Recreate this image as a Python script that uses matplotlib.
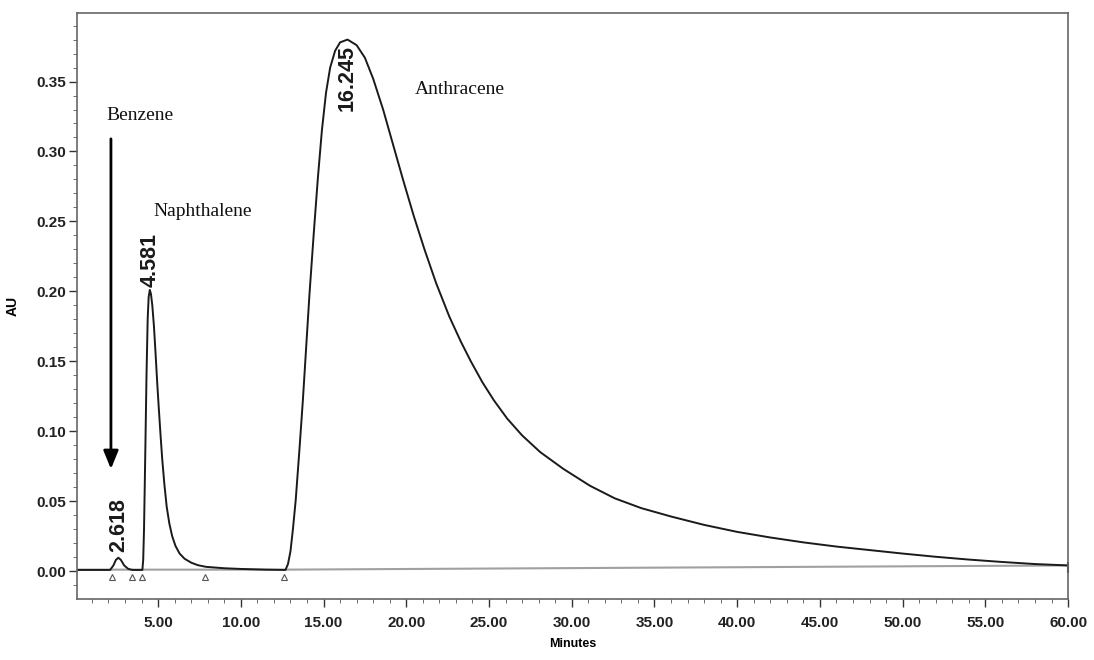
import numpy as np
import matplotlib.pyplot as plt

# chromatogram trace (minutes, AU)
minutes = [0.1, 1.0, 2.1, 2.3, 2.45, 2.6, 2.75, 2.95, 3.2, 3.45, 4.0,
           4.05, 4.10, 4.15, 4.22, 4.30, 4.37, 4.43, 4.50, 4.57, 4.65, 4.75,
           4.85, 4.95, 5.05, 5.15, 5.25, 5.38, 5.52, 5.68, 5.85, 6.05, 6.3,
           6.6, 7.0, 7.4, 7.9, 9.0, 10.0, 11.5, 12.7,
           12.85, 13.0, 13.15, 13.32, 13.55, 13.75, 13.95, 14.15, 14.4, 14.65,
           14.9, 15.15, 15.4, 15.7, 16.0, 16.45, 17.0, 17.5, 18.0, 18.6,
           19.2, 19.8, 20.45, 21.1, 21.8, 22.6, 23.3, 23.9, 24.6, 25.3,
           26.1, 27.0, 28.1, 29.5, 31.1, 32.6, 34.2, 36.0, 38.0, 40.0,
           42.0, 44.0, 46.0, 48.0, 50.0, 52.0, 54.0, 56.0, 58.0, 60.0]
au = [0.0008, 0.0008, 0.0008, 0.004, 0.008, 0.0095, 0.008, 0.004, 0.0015, 0.0008, 0.0008,
      0.0008, 0.008, 0.03, 0.08, 0.14, 0.180, 0.196, 0.201, 0.198, 0.190, 0.175,
      0.155, 0.134, 0.115, 0.097, 0.080, 0.062, 0.046, 0.034, 0.025, 0.018, 0.0125,
      0.0088, 0.006, 0.0042, 0.003, 0.002, 0.0015, 0.001, 0.0008,
      0.005, 0.014, 0.03, 0.051, 0.088, 0.122, 0.160, 0.198, 0.240, 0.280,
      0.315, 0.342, 0.360, 0.372, 0.378, 0.380, 0.376, 0.367, 0.352, 0.330,
      0.305, 0.280, 0.254, 0.230, 0.206, 0.182, 0.164, 0.150, 0.135, 0.122,
      0.109, 0.097, 0.085, 0.073, 0.061, 0.052, 0.045, 0.039, 0.033, 0.028,
      0.024, 0.0205, 0.0175, 0.015, 0.0125, 0.0102, 0.0082, 0.0065, 0.005, 0.004]

# integration baseline
base_t = [0.1, 12.6, 60.0]
base_au = [0.001, 0.001, 0.004]

# peak start / end marks
mark_t = [2.2, 3.45, 4.05, 7.85, 12.6]

peak_rt = ['2.618', '4.581', '16.245']
peak_pos = [(2.6, 0.0135), (4.5, 0.203), (16.4, 0.329)]

compounds = ['Benzene', 'Naphthalene', 'Anthracene']
compound_pos = [(1.9, 0.326), (4.7, 0.257), (20.5, 0.344)]

plt.rcParams['font.family'] = ['Liberation Sans', 'DejaVu Sans']

fig = plt.figure(figsize=(10.94, 6.6), dpi=100)
ax = fig.add_axes([0.0704, 0.0924, 0.9059, 0.8879])

ax.plot(base_t, base_au, color='#a0a0a0', lw=1.5, zorder=1)
ax.plot(minutes, au, color='#1a1a1a', lw=1.4, zorder=2)
ax.plot(mark_t, [-0.0042] * len(mark_t), linestyle='none', marker='^',
        ms=4, mfc='white', mec='#555555', mew=0.8, zorder=3)
ax.plot([60.0, 60.0], [-0.001, 0.006], color='#333333', lw=1.5, clip_on=False)

for lab, (x, y) in zip(peak_rt, peak_pos):
    ax.text(x, y, lab, rotation=90, ha='center', va='bottom', fontsize=15.5,
            fontweight='bold', color='#1a1a1a')

for name, (x, y) in zip(compounds, compound_pos):
    ax.text(x, y, name, ha='left', va='center', fontsize=14,
            family=['Liberation Serif', 'DejaVu Serif'], color='#111111')

# Benzene arrow
ax.annotate('', xy=(2.15, 0.071), xytext=(2.15, 0.311),
            arrowprops=dict(arrowstyle='-|>,head_width=0.45,head_length=1.1',
                            color='black', lw=2))

ax.set_xlim(0.1, 60)
ax.set_ylim(-0.02, 0.399)
ax.set_xticks(np.arange(5, 61, 5))
ax.set_xticklabels([f'{v:.2f}' for v in np.arange(5, 61, 5)], fontweight='bold')
ax.set_xticks(np.arange(1, 60, 1), minor=True)
ax.set_yticks(np.arange(0, 0.36, 0.05))
ax.set_yticklabels([f'{v:.2f}' for v in np.arange(0, 0.36, 0.05)], fontweight='bold')
ax.set_yticks(np.arange(-0.01, 0.40, 0.01), minor=True)

ax.tick_params(axis='both', which='major', labelsize=11, colors='#333333',
               labelcolor='#222222', width=1)
ax.tick_params(axis='y', which='major', length=6, pad=2)
ax.tick_params(axis='y', which='minor', length=3, color='#555555')
ax.tick_params(axis='x', which='major', length=6, pad=6)
ax.tick_params(axis='x', which='minor', length=3, color='#555555')

for s in ax.spines.values():
    s.set_color('#666666')
    s.set_linewidth(1.2)

ax.set_xlabel('Minutes', fontsize=9, fontweight='bold', labelpad=6)
ax.set_ylabel('AU', fontsize=10, fontweight='bold', labelpad=12)

plt.savefig('out.png', dpi=100, facecolor='white')
